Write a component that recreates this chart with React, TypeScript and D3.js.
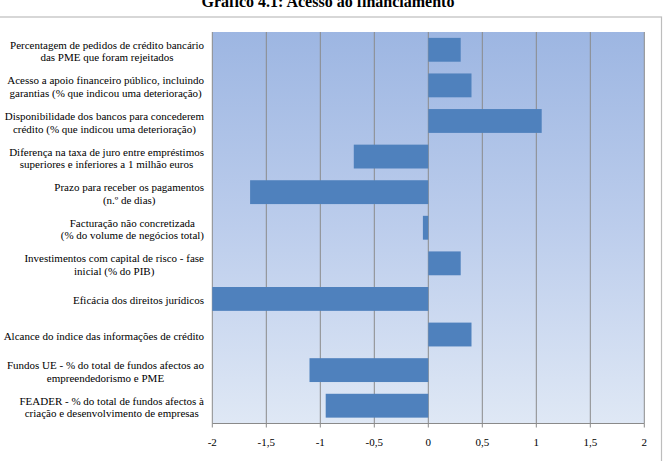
import React, { useEffect, useRef } from "react";
import * as d3 from "d3";

const categories: string[] = [
  "Percentagem de pedidos de crédito bancário\ndas PME que foram rejeitados",
  "Acesso a apoio financeiro público, incluindo\ngarantias (% que indicou uma deterioração)",
  "Disponibilidade dos bancos para concederem\ncrédito (% que indicou uma deterioração)",
  "Diferença na taxa de juro entre empréstimos\nsuperiores e inferiores a 1 milhão euros",
  "Prazo para receber os pagamentos\n(n.º de dias)",
  "Facturação não concretizada\n(% do volume de negócios total)",
  "Investimentos com capital de risco - fase\ninicial (% do PIB)",
  "Eficácia dos direitos jurídicos",
  "Alcance do índice das informações de crédito",
  "Fundos UE - % do total de fundos afectos ao\nempreendedorismo e PME",
  "FEADER - % do total de fundos afectos à\ncriação e desenvolvimento de empresas",
];
const values: number[] = [0.3, 0.4, 1.05, -0.69, -1.65, -0.05, 0.3, -2.0, 0.4, -1.1, -0.95];
const tickValues: number[] = [-2, -1.5, -1, -0.5, 0, 0.5, 1, 1.5, 2];
const title = "Gráfico 4.1: Acesso ao financiamento";

const W = 664;
const H = 461;
const FONT = '"Liberation Serif", "Times New Roman", Tinos, "DejaVu Serif", serif';

export default function App() {
  const ref = useRef<SVGSVGElement>(null);

  useEffect(() => {
    const svg = d3.select(ref.current);
    svg.selectAll("*").remove();

    const x0 = 212.3, x1 = 644.3, y0 = 32, y1 = 423.5;
    const x = d3.scaleLinear().domain([-2, 2]).range([x0, x1]);
    const y = d3.scaleBand<number>().domain(d3.range(categories.length)).range([y0, y1]).paddingInner(0.33).paddingOuter(0.165);

    const defs = svg.append("defs");
    const grad = defs.append("linearGradient").attr("id", "bg").attr("x1", 0).attr("y1", 0).attr("x2", 0).attr("y2", 1);
    grad.append("stop").attr("offset", "0%").attr("stop-color", "#9db6e2");
    grad.append("stop").attr("offset", "50%").attr("stop-color", "#bccdec");
    grad.append("stop").attr("offset", "100%").attr("stop-color", "#dfe8f5");

    svg.append("rect").attr("x", -1).attr("y", 17).attr("width", 662.5).attr("height", 460)
      .attr("fill", "#ffffff").attr("stroke", "#bdbdbd").attr("stroke-width", 1.2);

    svg.append("text").attr("x", 328).attr("y", 7).attr("text-anchor", "middle")
      .style("font-family", FONT).attr("font-weight", "bold")
      .attr("font-size", 16).attr("fill", "#000").text(title);

    svg.append("rect").attr("x", x0).attr("y", y0).attr("width", x1 - x0).attr("height", y1 - y0).attr("fill", "url(#bg)");

    svg.append("g").selectAll("line").data(tickValues).join("line")
      .attr("x1", (d) => x(d)).attr("x2", (d) => x(d)).attr("y1", y0).attr("y2", y1)
      .attr("stroke", "#8a8a8a").attr("stroke-width", 1);

    svg.append("g").selectAll("rect").data(values).join("rect")
      .attr("x", (d) => x(Math.min(0, d)))
      .attr("width", (d) => Math.abs(x(d) - x(0)))
      .attr("y", (_d, i) => y(i)!)
      .attr("height", y.bandwidth())
      .attr("fill", "#4f81bd");

    // axis
    const axis = svg.append("g");
    axis.append("line").attr("x1", x0).attr("x2", x1).attr("y1", y1).attr("y2", y1).attr("stroke", "#8a8a8a");
    axis.selectAll("line.t").data(tickValues).join("line").attr("class", "t")
      .attr("x1", (d) => x(d)).attr("x2", (d) => x(d)).attr("y1", y1).attr("y2", y1 + 4).attr("stroke", "#8a8a8a");
    axis.selectAll("text").data(tickValues).join("text")
      .attr("x", (d) => x(d)).attr("y", 445.5).attr("text-anchor", "middle")
      .style("font-family", FONT).attr("font-size", 11).attr("fill", "#000")
      .text((d) => String(d).replace(".", ","));

    // category labels
    const right = 204;
    const lg = svg.append("g").style("font-family", FONT).attr("font-size", 11).attr("fill", "#000");
    categories.forEach((c, i) => {
      const lines = c.split("\n");
      const cy = y(i)! + y.bandwidth() / 2 + 1.5;
      const t = lg.append("text").attr("text-anchor", "middle");
      const lh = 12.5;
      const tsp = lines.map((ln, k) =>
        t.append("tspan").attr("y", cy + (k - (lines.length - 1) / 2) * lh + 3.8).text(ln)
      );
      let maxw = 0;
      tsp.forEach((s) => { maxw = Math.max(maxw, (s.node() as SVGTSpanElement).getComputedTextLength()); });
      tsp.forEach((s) => s.attr("x", right - maxw / 2));
    });
  }, []);

  return <svg ref={ref} width={W} height={H} style={{ display: "block", position: "absolute", left: 0, top: 0 }} />;
}
